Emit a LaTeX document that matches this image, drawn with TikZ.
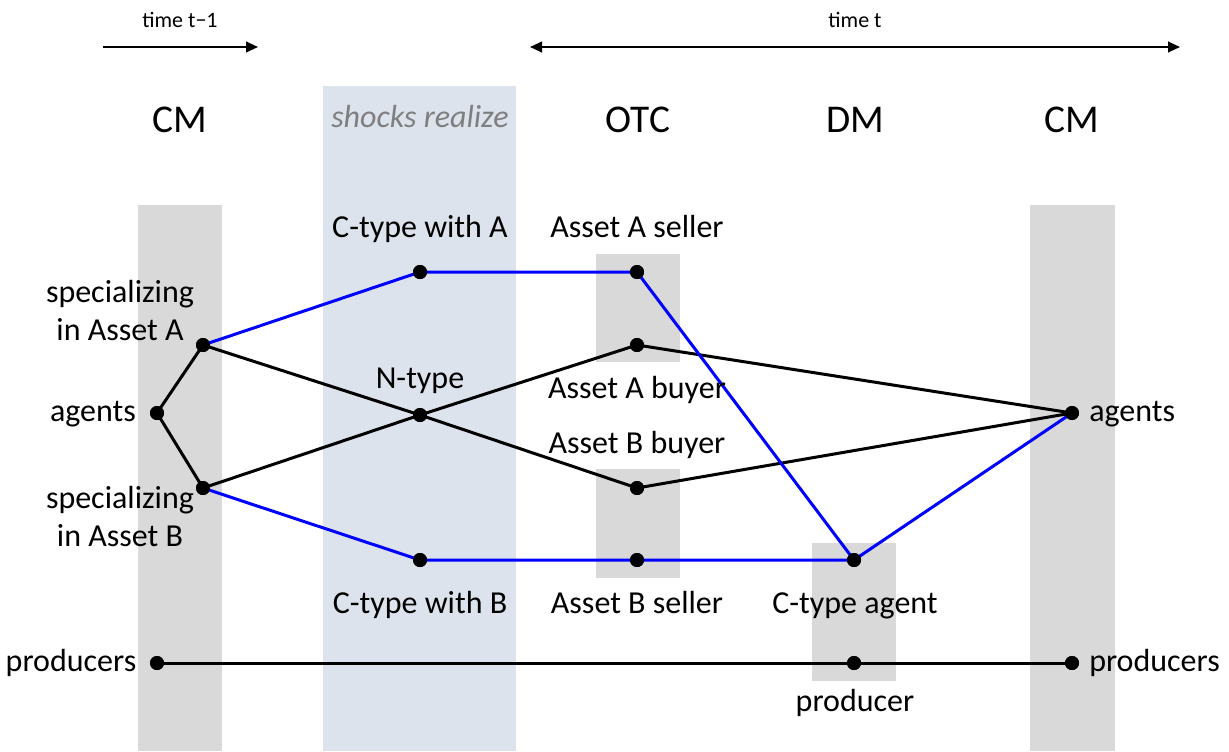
\documentclass[tikz,border=0pt]{standalone}
\usepackage{fontspec}
\setmainfont{Carlito}
\usetikzlibrary{arrows.meta}
\definecolor{bandgrey}{HTML}{D9D9D9}
\definecolor{bandblue}{HTML}{DCE3EC}
\definecolor{lineblue}{HTML}{0000FF}
\definecolor{shockgrey}{HTML}{7F7F7F}
\begin{document}
\begin{tikzpicture}[x=0.75pt,y=-0.75pt,
  lbl/.style={inner sep=0pt,anchor=base,font=\fontsize{24}{28}\selectfont},
  ttl/.style={inner sep=0pt,anchor=base,font=\fontsize{29.5}{34}\selectfont},
  tim/.style={inner sep=0pt,anchor=base,font=\fontsize{16.5}{19}\selectfont},
  dot/.style={circle,fill=black,inner sep=0pt,minimum size=10.5pt},
  bl/.style={draw=lineblue,line width=2.25pt},
  bk/.style={draw=black,line width=2.25pt},
  tarrow/.style={line width=1.5pt,-{Triangle[length=9pt,width=8pt]}},
  tarrow2/.style={line width=1.5pt,{Triangle[length=9pt,width=8pt]}-{Triangle[length=9pt,width=8pt]}}]
\useasboundingbox (0,0) rectangle (1229,751);
% bands
\fill[bandgrey] (138,205) rectangle (222,751);
\fill[bandgrey] (1030,205) rectangle (1115,751);
\fill[bandblue] (323,86) rectangle (516,751);
\fill[bandgrey] (596,254) rectangle (680,362);
\fill[bandgrey] (596,469) rectangle (680,578);
\fill[bandgrey] (812,543) rectangle (896,681);
% time arrows
\coordinate (t1a) at (103,47);
\coordinate (t1b) at (258,47);
\coordinate (t2a) at (530,47);
\coordinate (t2b) at (1180,47);
\draw[tarrow] (t1a) -- (t1b);
\draw[tarrow2] (t2a) -- (t2b);
\node[tim] (tl1) at (180,27) {time t−1};
\node[tim] (tl2) at (855,27) {time t};
% titles
\node[ttl] (cm1) at (180,132) {CM};
\node[inner sep=0pt,anchor=base,font=\fontsize{24}{28}\selectfont\itshape,text=shockgrey] (shk) at (420,127) {shocks realize};
\node[ttl] (otc) at (638,132) {OTC};
\node[ttl] (dm) at (855,132) {DM};
\node[ttl] (cm2) at (1072,132) {CM};
% dots
\node[dot] (ag) at (157,413) {};
\node[dot] (sa) at (203,345) {};
\node[dot] (sb) at (203,488) {};
\node[dot] (ca) at (420,272) {};
\node[dot] (nt) at (420,415) {};
\node[dot] (cb) at (420,560) {};
\node[dot] (as) at (637,272) {};
\node[dot] (ab) at (637,345) {};
\node[dot] (bb) at (637,488) {};
\node[dot] (bs) at (637,560) {};
\node[dot] (ct) at (854,560) {};
\node[dot] (pr) at (854,663) {};
\node[dot] (ag2) at (1072,413) {};
\node[dot] (pl) at (157,663) {};
\node[dot] (pr2) at (1072,663) {};
% lines
\draw[bk] (ag.center) -- (sa.center);
\draw[bk] (ag.center) -- (sb.center);
\draw[bk] (sa.center) -- (nt.center) -- (bb.center) -- (ag2.center);
\draw[bk] (sb.center) -- (nt.center) -- (ab.center) -- (ag2.center);
\draw[bl] (sa.center) -- (ca.center) -- (as.center) -- (ct.center) -- (ag2.center);
\draw[bl] (sb.center) -- (cb.center) -- (bs.center) -- (ct.center);
\draw[bk] (pl.center) -- (pr.center) -- (pr2.center);
% redraw dots on top
\foreach \n in {ag,sa,sb,ca,nt,cb,as,ab,bb,bs,ct,pr,ag2,pl,pr2}
  \fill (\n) circle (7);
% labels
\node[lbl] (l1) at (120,302) {specializing};
\node[lbl] (l2) at (120,340) {in Asset A};
\node[lbl] (l3) at (93,421) {agents};
\node[lbl] (l4) at (120,508) {specializing};
\node[lbl] (l5) at (120,546) {in Asset B};
\node[lbl] (l6) at (71,671) {producers};
\node[lbl] (l7) at (420,237) {C-type with A};
\node[lbl] (l8) at (637,237) {Asset A seller};
\node[lbl] (l9) at (420,388) {N-type};
\node[lbl] (l10) at (637,398) {Asset A buyer};
\node[lbl] (l11) at (637,453) {Asset B buyer};
\node[lbl] (l12) at (420,613) {C-type with B};
\node[lbl] (l13) at (637,613) {Asset B seller};
\node[lbl] (l14) at (855,613) {C-type agent};
\node[lbl] (l15) at (855,711) {producer};
\node[lbl,anchor=base west] (l16) at (1089,421) {agents};
\node[lbl,anchor=base west] (l17) at (1089,671) {producers};
\end{tikzpicture}
\end{document}
